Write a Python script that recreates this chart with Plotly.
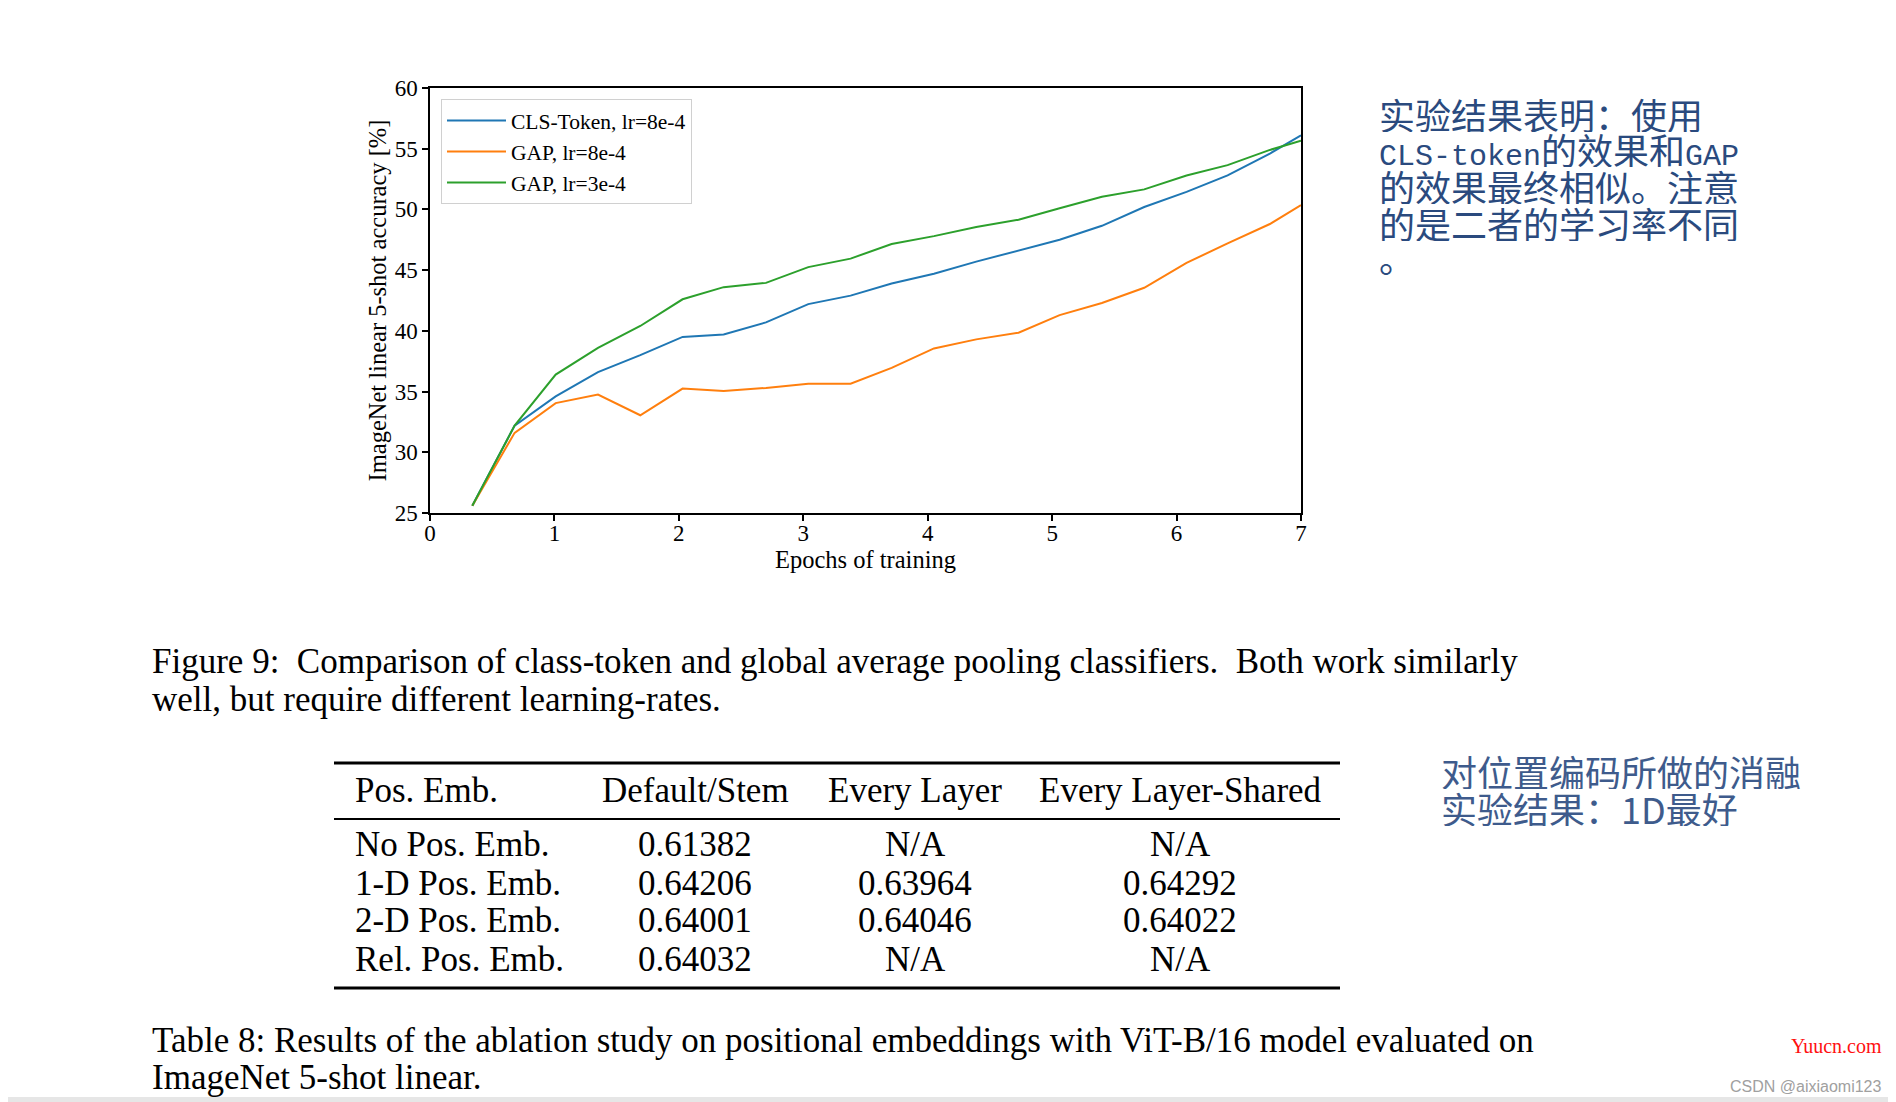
import plotly.graph_objects as go

# ---------------- data ----------------
epochs = [0.34, 0.68, 1.01, 1.35, 1.69, 2.03, 2.36, 2.70, 3.04, 3.38, 3.71,
          4.05, 4.39, 4.73, 5.06, 5.40, 5.74, 6.08, 6.41, 6.75, 7.0]
cls_token_8e4 = [25.6, 32.2, 34.6, 36.6, 38.0, 39.5, 39.7, 40.7, 42.2, 42.9, 43.9,
                 44.7, 45.7, 46.6, 47.5, 48.65, 50.2, 51.45, 52.8, 54.6, 56.1]
gap_8e4 = [25.6, 31.6, 34.05, 34.75, 33.05, 35.25, 35.05, 35.3, 35.65, 35.65, 36.95,
           38.55, 39.3, 39.85, 41.3, 42.3, 43.55, 45.6, 47.2, 48.8, 50.35]
gap_3e4 = [25.6, 32.2, 36.4, 38.6, 40.4, 42.6, 43.6, 43.95, 45.25, 45.95, 47.15,
           47.8, 48.55, 49.15, 50.1, 51.05, 51.65, 52.8, 53.65, 54.9, 55.65]
series_names = ["CLS-Token, lr=8e-4", "GAP, lr=8e-4", "GAP, lr=3e-4"]
series_colors = ["#1f77b4", "#ff7f0e", "#2ca02c"]

x_ticks = [0, 1, 2, 3, 4, 5, 6, 7]
y_ticks = [25, 30, 35, 40, 45, 50, 55, 60]

caption_fig = ["Figure 9:  Comparison of class-token and global average pooling classifiers.  Both work similarly",
               "well, but require different learning-rates."]
table_header = ["Pos. Emb.", "Default/Stem", "Every Layer", "Every Layer-Shared"]
row_labels = ["No Pos. Emb.", "1-D Pos. Emb.", "2-D Pos. Emb.", "Rel. Pos. Emb."]
default_stem = ["0.61382", "0.64206", "0.64001", "0.64032"]
every_layer = ["N/A", "0.63964", "0.64046", "N/A"]
every_layer_shared = ["N/A", "0.64292", "0.64022", "N/A"]
caption_table = ["Table 8: Results of the ablation study on positional embeddings with ViT-B/16 model evaluated on",
                 "ImageNet 5-shot linear."]

note1 = ["实验结果表明：使用",
         "<span style=\"font-family:'Liberation Mono';font-size:30px\">CLS-token</span>的效果和<span style=\"font-family:'Liberation Mono';font-size:30px\">GAP</span>",
         "的效果最终相似。注意",
         "的是二者的学习率不同",
         "。"]
note2 = ["对位置编码所做的消融", "实验结果：1D最好"]

# ---------------- layout helpers ----------------
W, H = 1896, 1102
OFF = 8  # page body margin
def px(x):
    return (x - OFF) / W
def py(y):
    return 1 - (y - OFF) / H

SERIF = "Liberation Serif, Times New Roman, serif"
CJK = "Noto Sans CJK SC"

fig = go.Figure()
for name, vals, col in zip(series_names, [cls_token_8e4, gap_8e4, gap_3e4], series_colors):
    fig.add_trace(go.Scatter(x=epochs, y=vals, mode="lines", name=name,
                             line=dict(color=col, width=2)))

axis_common = dict(showgrid=False, zeroline=False, showline=True, linecolor="black",
                   linewidth=1.5, mirror=True, ticks="outside", ticklen=6, tickwidth=1.5,
                   tickcolor="black", tickfont=dict(family=SERIF, size=23, color="black"),
                   automargin=False)

fig.update_layout(
    width=W, height=H, autosize=False,
    margin=dict(l=0, r=0, t=0, b=0),
    paper_bgcolor="white", plot_bgcolor="white",
    xaxis=dict(domain=[px(430), px(1301)], range=[0, 7], tickvals=x_ticks,
               ticklabelstandoff=-7,
               title=dict(text="Epochs of training", font=dict(family=SERIF, size=24.5, color="black"),
                          standoff=2),
               **axis_common),
    yaxis=dict(domain=[py(513), py(88)], range=[25, 60], tickvals=y_ticks,
               title=dict(text="ImageNet linear 5-shot accuracy [%]",
                          font=dict(family=SERIF, size=24.5, color="black"), standoff=1),
               **axis_common),
    legend=dict(x=px(441), y=py(99), xanchor="left", yanchor="top",
                bgcolor="white", bordercolor="#d0d0d0", borderwidth=1,
                font=dict(family=SERIF, size=21.5, color="black"), itemwidth=59,
                tracegroupgap=0),
    showlegend=True,
)

def text(x, y, s, size=35, family=SERIF, color="black", xanchor="left", height=None):
    fig.add_annotation(x=px(x), y=py(y), xref="paper", yref="paper", text=s,
                       showarrow=False, xanchor=xanchor, yanchor="middle", height=height,
                       font=dict(family=family, size=size, color=color))

# figure caption
for line, yy in zip(caption_fig, [661, 699]):
    text(150, yy, line)

# table
rule_x0, rule_x1 = 334, 1340
for yy, wdt in [(763, 3), (819, 2), (988, 3)]:
    fig.add_shape(type="line", xref="paper", yref="paper", x0=px(rule_x0), x1=px(rule_x1),
                  y0=py(yy), y1=py(yy), line=dict(color="black", width=wdt))
col_x = [353, 695, 915, 1180]
text(col_x[0], 790, table_header[0])
for cx, h in zip(col_x[1:], table_header[1:]):
    text(cx, 790, h, xanchor="center")
row_y = [844, 883, 920, 959]
for i, ry in enumerate(row_y):
    text(col_x[0], ry, row_labels[i])
    text(col_x[1], ry, default_stem[i], xanchor="center")
    text(col_x[2], ry, every_layer[i], xanchor="center")
    text(col_x[3], ry, every_layer_shared[i], xanchor="center")

# table caption
for line, yy in zip(caption_table, [1040, 1077]):
    text(150, yy, line)

# chinese notes
for line, yy in zip(note1, [114, 149, 186, 223, 257]):
    text(1377, yy, line, size=36, family=CJK, color="#2a4a7e", height=36)
for line, yy in zip(note2, [771, 808]):
    text(1439, yy, line, size=36, family=CJK, color="#3e5b8c", height=36)

# watermarks
text(1884, 1046, "Yuucn.com", size=20, family=SERIF, color="#ff1010", xanchor="right")
text(1884, 1086, "CSDN @aixiaomi123", size=16, family="Liberation Sans", color="#a0a0a0", xanchor="right")

# bottom gray band
fig.add_shape(type="rect", xref="paper", yref="paper", x0=px(0), x1=1, y0=py(1102), y1=py(1097),
              line=dict(width=0), fillcolor="#e6e6e6")

fig.write_html("out.html")
